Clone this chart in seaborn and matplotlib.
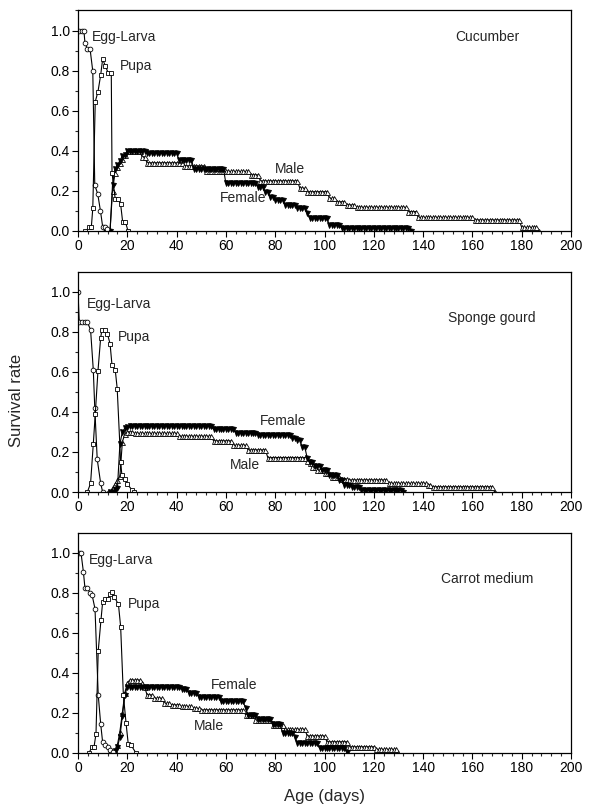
import numpy as np
import pandas as pd
import matplotlib
matplotlib.use("Agg")
import matplotlib.pyplot as plt
import seaborn as sns
from matplotlib.ticker import MultipleLocator

sns.set_theme(style="ticks")
plt.rcParams['font.family'] = ['Liberation Sans', 'DejaVu Sans']

# ---------------- data ----------------
panel_names = ["Cucumber", "Sponge gourd", "Carrot medium"]

# Egg-Larva
cuc_egg_days = [0.5, 1.5, 2.4, 2.8, 3.8, 4.9, 6.0, 6.8, 8.0, 9.1, 10.0, 10.8, 11.6]
cuc_egg_vals = [1.0, 1.0, 1.0, 0.94, 0.907, 0.907, 0.797, 0.229, 0.185, 0.101, 0.022, 0.018, 0.01]
spg_egg_days = [0.0, 0.5, 1.6, 2.7, 3.8, 5.1, 6.2, 6.8, 7.8, 9.2, 10.0]
spg_egg_vals = [1.0, 0.847, 0.847, 0.847, 0.847, 0.809, 0.61, 0.42, 0.163, 0.043, 0.0]
car_egg_days = [0.5, 1.2, 2.2, 2.8, 3.8, 4.9, 5.7, 6.9, 8.2, 9.2, 10.0, 11.1, 12.0, 13.0, 14.1]
car_egg_vals = [1.0, 1.0, 0.902, 0.825, 0.825, 0.797, 0.789, 0.719, 0.29, 0.145, 0.053, 0.04, 0.032, 0.015, 0.003]

# Pupa
cuc_pupa_days = [3.0, 4.6, 5.4, 6.0, 7.0, 8.1, 9.2, 10.0, 11.1, 12.2, 13.5, 13.8, 15.1, 16.2, 17.3, 18.1, 19.2, 20.3]
cuc_pupa_vals = [0.0, 0.018, 0.018, 0.113, 0.645, 0.695, 0.778, 0.857, 0.823, 0.79, 0.79, 0.29, 0.16, 0.16, 0.133, 0.047, 0.047, 0.0]
spg_pupa_days = [3.8, 5.1, 6.2, 7.0, 8.1, 9.2, 9.7, 10.8, 11.9, 13.0, 13.8, 15.1, 15.9, 17.3, 17.8, 19.2, 20.0, 21.9, 22.7]
spg_pupa_vals = [0.0, 0.043, 0.239, 0.388, 0.604, 0.77, 0.809, 0.809, 0.79, 0.74, 0.632, 0.61, 0.516, 0.151, 0.085, 0.063, 0.04, 0.01, 0.0]
car_pupa_days = [4.5, 5.6, 6.5, 7.3, 8.2, 9.3, 10.0, 11.1, 12.0, 13.0, 13.8, 14.6, 16.4, 17.3, 18.4, 19.5, 20.4, 21.5, 23.5]
car_pupa_vals = [0.0, 0.03, 0.03, 0.096, 0.509, 0.661, 0.753, 0.768, 0.77, 0.792, 0.802, 0.78, 0.742, 0.63, 0.29, 0.148, 0.043, 0.04, 0.0]

# Female / Male daily survival, as (value, number of consecutive days) from a start day
cuc_female_start = 11
cuc_female_runs = [(0.0, 3), (0.23, 1), (0.31, 1), (0.33, 1), (0.35, 1), (0.375, 1), (0.38, 1),
                   (0.40, 8), (0.388, 13), (0.355, 6), (0.31, 13), (0.238, 13), (0.22, 3),
                   (0.196, 2), (0.17, 2), (0.155, 4), (0.13, 5), (0.113, 4), (0.088, 1),
                   (0.063, 8), (0.03, 5), (0.013, 28), (0.0, 1)]
cuc_male_start = 11
cuc_male_runs = [(0.0, 3), (0.2, 1), (0.29, 1), (0.32, 1), (0.34, 1), (0.36, 1), (0.38, 1),
                 (0.40, 6), (0.37, 2), (0.34, 15), (0.325, 9), (0.30, 4), (0.297, 14),
                 (0.28, 4), (0.25, 16), (0.213, 3), (0.196, 9), (0.163, 3), (0.146, 4),
                 (0.13, 4), (0.118, 21), (0.097, 4), (0.068, 23), (0.055, 19), (0.018, 7),
                 (0.0, 1)]
spg_female_start = 13
spg_female_runs = [(0.0, 2), (0.01, 1), (0.02, 1), (0.24, 1), (0.30, 1), (0.318, 1), (0.325, 1),
                   (0.328, 34), (0.312, 9), (0.295, 9), (0.283, 14), (0.27, 2), (0.259, 2),
                   (0.225, 2), (0.168, 1), (0.15, 2), (0.13, 3), (0.11, 3), (0.085, 4),
                   (0.06, 2), (0.035, 3), (0.025, 4), (0.01, 17), (0.0, 1)]
spg_male_start = 12
spg_male_runs = [(0.0, 2), (0.02, 1), (0.04, 1), (0.06, 1), (0.08, 1), (0.25, 1), (0.29, 1),
                 (0.30, 3), (0.292, 18), (0.278, 14), (0.255, 8), (0.233, 6), (0.21, 8),
                 (0.172, 16), (0.155, 1), (0.143, 1), (0.125, 2), (0.11, 3), (0.093, 3),
                 (0.076, 4), (0.065, 3), (0.06, 16), (0.043, 16), (0.035, 2), (0.026, 25),
                 (0.0, 1)]
car_female_start = 13
car_female_runs = [(0.0, 2), (0.01, 1), (0.03, 1), (0.08, 1), (0.185, 1), (0.29, 1), (0.33, 22),
                   (0.318, 3), (0.298, 4), (0.28, 9), (0.258, 10), (0.222, 1), (0.19, 4),
                   (0.168, 6), (0.143, 4), (0.101, 5), (0.081, 1), (0.048, 9), (0.023, 11),
                   (0.005, 1)]
car_male_start = 13
car_male_runs = [(0.0, 2), (0.01, 1), (0.04, 1), (0.107, 1), (0.20, 1), (0.30, 1), (0.35, 1),
                 (0.364, 5), (0.35, 1), (0.331, 1), (0.29, 3), (0.273, 4), (0.248, 3), (0.24, 4),
                 (0.232, 5), (0.222, 3), (0.215, 18), (0.19, 4), (0.165, 7), (0.14, 5),
                 (0.118, 9), (0.085, 8), (0.056, 9), (0.031, 11), (0.018, 9), (0.0, 1)]

x_ticks = [0, 20, 40, 60, 80, 100, 120, 140, 160, 180, 200]
y_ticks = [0.0, 0.2, 0.4, 0.6, 0.8, 1.0]


def expand(start, runs):
    vals = []
    for v, n in runs:
        vals += [v] * n
    days = list(range(start, start + len(vals)))
    return days, vals


panels = [
    dict(name=panel_names[0], egg=(cuc_egg_days, cuc_egg_vals), pupa=(cuc_pupa_days, cuc_pupa_vals),
         female=expand(cuc_female_start, cuc_female_runs), male=expand(cuc_male_start, cuc_male_runs),
         labels=[("Egg-Larva", 5.6, 0.97, 'left'), ("Pupa", 16.8, 0.822, 'left'),
                 ("Male", 86, 0.31, 'center'), ("Female", 67, 0.165, 'center')],
         title_xy=(166, 0.968)),
    dict(name=panel_names[1], egg=(spg_egg_days, spg_egg_vals), pupa=(spg_pupa_days, spg_pupa_vals),
         female=expand(spg_female_start, spg_female_runs), male=expand(spg_male_start, spg_male_runs),
         labels=[("Egg-Larva", 3.5, 0.939, 'left'), ("Pupa", 16.1, 0.773, 'left'),
                 ("Female", 83.3, 0.356, 'center'), ("Male", 67.6, 0.136, 'center')],
         title_xy=(168, 0.87)),
    dict(name=panel_names[2], egg=(car_egg_days, car_egg_vals), pupa=(car_pupa_days, car_pupa_vals),
         female=expand(car_female_start, car_female_runs), male=expand(car_male_start, car_male_runs),
         labels=[("Egg-Larva", 4.6, 0.962, 'left'), ("Pupa", 20.4, 0.741, 'left'),
                 ("Female", 63.2, 0.341, 'center'), ("Male", 53.1, 0.134, 'center')],
         title_xy=(166, 0.87)),
]

W, H = 590, 810
fig = plt.figure(figsize=(W / 100, H / 100), dpi=100)
left_px, right_px = 78, 571
panel_px = [(10, 231), (272, 492), (533, 753)]

line_kw = dict(color='black', linewidth=0.8)
for p, (top_px, bot_px) in zip(panels, panel_px):
    ax = fig.add_axes([left_px / W, 1 - bot_px / H, (right_px - left_px) / W, (bot_px - top_px) / H])
    ymax = (bot_px - top_px) / 200.5

    for key, marker, mfc, ms in [("male", '^', 'white', 3.6), ("female", 'v', 'black', 3.6),
                                 ("egg", 'o', 'white', 3.4), ("pupa", 's', 'white', 3.4)]:
        d, v = p[key]
        df = pd.DataFrame({"day": d, "surv": v})
        sns.lineplot(data=df, x="day", y="surv", ax=ax, estimator=None, sort=False,
                     marker=marker, markersize=ms, markerfacecolor=mfc,
                     markeredgecolor='black', markeredgewidth=0.6, **line_kw)

    for txt, x, y, ha in p["labels"]:
        ax.text(x, y, txt, ha=ha, va='center', fontsize=10)
    ax.text(p["title_xy"][0], p["title_xy"][1], p["name"], ha='center', va='center', fontsize=10)

    ax.set_xlim(0, 200)
    ax.set_ylim(0, ymax)
    ax.set_xticks(x_ticks)
    ax.set_yticks(y_ticks)
    ax.set_yticklabels([f"{t:.1f}" for t in y_ticks])
    ax.xaxis.set_minor_locator(MultipleLocator(4))
    ax.yaxis.set_minor_locator(MultipleLocator(0.1))
    ax.tick_params(which='major', direction='out', length=4, width=0.8, labelsize=10, pad=2, colors='black')
    ax.tick_params(which='minor', direction='out', length=2.2, width=0.8)
    for s in ax.spines.values():
        s.set_linewidth(0.9)
        s.set_color('black')
    ax.set_xlabel("")
    ax.set_ylabel("")

fig.text(17 / W, 1 - 400 / H, "Survival rate", rotation=90, ha='center', va='center', fontsize=12)
fig.text((left_px + right_px) / 2 / W, 1 - 797 / H, "Age (days)", ha='center', va='center', fontsize=12)

fig.savefig("out.png", dpi=100)
